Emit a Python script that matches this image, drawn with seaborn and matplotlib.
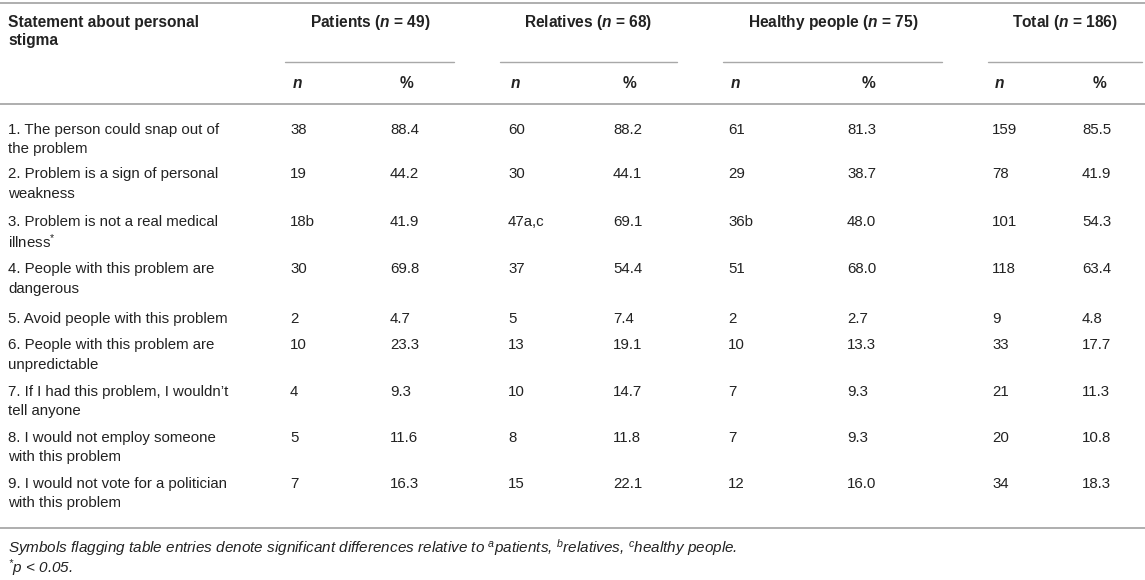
import matplotlib
matplotlib.use("Agg")
import matplotlib.pyplot as plt
import seaborn as sns

sns.set_theme(style="white")
plt.rcParams['font.family'] = ['Liberation Sans', 'DejaVu Sans']
plt.rcParams['mathtext.fontset'] = 'custom'
plt.rcParams['mathtext.it'] = 'Liberation Sans:bold:italic'
plt.rcParams['mathtext.bf'] = 'Liberation Sans:bold:italic'
plt.rcParams['mathtext.rm'] = 'Liberation Sans:italic'
plt.rcParams['mathtext.sf'] = 'Liberation Sans'

# ---------------- data ----------------
statements = [
    ["1. The person could snap out of", "the problem"],
    ["2. Problem is a sign of personal", "weakness"],
    ["3. Problem is not a real medical", "illness$^{\\mathsf{*}}$"],
    ["4. People with this problem are", "dangerous"],
    ["5. Avoid people with this problem"],
    ["6. People with this problem are", "unpredictable"],
    ["7. If I had this problem, I wouldn\u2019t", "tell anyone"],
    ["8. I would not employ someone", "with this problem"],
    ["9. I would not vote for a politician", "with this problem"],
]
groups = ["Patients", "Relatives", "Healthy people", "Total"]
group_sizes = [49, 68, 75, 186]
patients_n = ["38", "19", "18b", "30", "2", "10", "4", "5", "7"]
patients_pct = ["88.4", "44.2", "41.9", "69.8", "4.7", "23.3", "9.3", "11.6", "16.3"]
relatives_n = ["60", "30", "47a,c", "37", "5", "13", "10", "8", "15"]
relatives_pct = ["88.2", "44.1", "69.1", "54.4", "7.4", "19.1", "14.7", "11.8", "22.1"]
healthy_n = ["61", "29", "36b", "51", "2", "10", "7", "7", "12"]
healthy_pct = ["81.3", "38.7", "48.0", "68.0", "2.7", "13.3", "9.3", "9.3", "16.0"]
total_n = ["159", "78", "101", "118", "9", "33", "21", "20", "34"]
total_pct = ["85.5", "41.9", "54.3", "63.4", "4.8", "17.7", "11.3", "10.8", "18.3"]
header_label = ["Statement about personal", "stigma"]
footnote1 = ("Symbols flagging table entries denote significant differences relative to "
             "$^{\\mathrm{a}}$patients, $^{\\mathrm{b}}$relatives, $^{\\mathrm{c}}$healthy people.")
footnote2 = "$^{\\mathrm{*}}$p < 0.05."

# ---------------- layout ----------------
W, H = 1145, 580
fig = plt.figure(figsize=(W / 100, H / 100), dpi=100)
ax = fig.add_axes([0, 0, 1, 1])
ax.set_xlim(0, W)
ax.set_ylim(H, 0)
ax.axis("off")

txt = "#222222"
line_c = "#a8a8a8"
fs = 10.8
fs_head = 11.2
fs_foot = 11.0

# column x positions
n_x = [290, 508, 728, 992]
pct_x = [390, 613, 847, 1082]
pct_head_x = [400, 623, 862, 1093]
grp_center = [370, 588, 833, 1065]
grp_line = [(285, 454), (500, 677), (723, 942), (988, 1142)]

# horizontal rules
ax.plot([0, W], [3, 3], color=line_c, lw=1.3)
ax.plot([0, W], [104, 104], color=line_c, lw=1.3)
ax.plot([0, W], [528, 528], color=line_c, lw=1.3)
for (a, b) in grp_line:
    ax.plot([a, b], [62, 62], color=line_c, lw=1.0)

# header
ax.text(8, 22, header_label[0], fontsize=fs_head, fontweight="bold", color=txt, va="center")
ax.text(8, 41, header_label[1], fontsize=fs_head, fontweight="bold", color=txt, va="center")
for g, s, cx in zip(groups, group_sizes, grp_center):
    ax.text(cx, 23, f"{g} ($n$ = {s})", fontsize=fs_head, fontweight="bold", color=txt,
            va="center", ha="center")
for nx, px in zip(n_x, pct_head_x):
    ax.text(nx + 2, 83, "$n$", fontsize=fs_head, color=txt, va="center")
    ax.text(px, 83, "%", fontsize=fs_head, fontweight="bold", color=txt, va="center")

# body rows (y of first line of each row)
row_y = [130, 174, 222, 269, 319, 345, 392, 438, 484]
line_gap = 19.5
cols = [(patients_n, patients_pct), (relatives_n, relatives_pct),
        (healthy_n, healthy_pct), (total_n, total_pct)]
for i, y in enumerate(row_y):
    for k, line in enumerate(statements[i]):
        ax.text(8, y + k * line_gap, line, fontsize=fs, color=txt, va="center")
    for (ns, ps), nx, px in zip(cols, n_x, pct_x):
        ax.text(nx, y, ns[i], fontsize=fs, color=txt, va="center")
        ax.text(px, y, ps[i], fontsize=fs, color=txt, va="center")

# footnotes
ax.text(8, 548, footnote1, fontsize=fs_foot, style="italic", color=txt, va="center")
ax.text(8, 568, footnote2, fontsize=fs_foot, style="italic", color=txt, va="center")

fig.savefig("out.png", dpi=100)
